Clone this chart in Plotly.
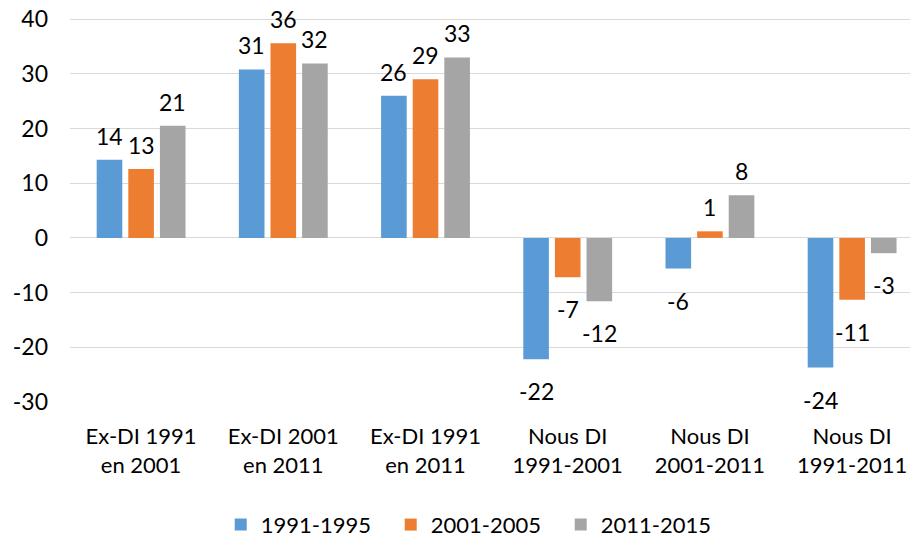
import plotly.graph_objects as go

categories = ["Ex-DI 1991<br>en 2001", "Ex-DI 2001<br>en 2011", "Ex-DI 1991<br>en 2011",
              "Nous DI<br>1991-2001", "Nous DI<br>2001-2011", "Nous DI<br>1991-2011"]
series_names = ["1991-1995", "2001-2005", "2011-2015"]
values_1991 = [14.3, 30.8, 26.0, -22.2, -5.6, -23.7]
values_2001 = [12.6, 35.6, 29.0, -7.2, 1.2, -11.3]
values_2011 = [20.5, 31.9, 33.0, -11.6, 7.8, -2.8]
labels_1991 = ["14", "31", "26", "-22", "-6", "-24"]
labels_2001 = ["13", "36", "29", "-7", "1", "-11"]
labels_2011 = ["21", "32", "33", "-12", "8", "-3"]
colors = ["#5B9BD5", "#ED7D31", "#A5A5A5"]
y_ticks = [-30, -20, -10, 0, 10, 20, 30, 40]
y_ticktext = [str(v) for v in y_ticks]

all_values = [values_1991, values_2001, values_2011]
all_labels = [labels_1991, labels_2001, labels_2011]

FONT = "Lato, 'Noto Sans', sans-serif"
BARGAP = 0.333

fig = go.Figure()
for name, vals, col in zip(series_names, all_values, colors):
    fig.add_trace(go.Bar(name=name, x=list(range(len(categories))), y=vals,
                         marker=dict(color=col, line=dict(width=0))))

slot = (1 - BARGAP) / 3
annotations = []
for s, (vals, labs) in enumerate(zip(all_values, all_labels)):
    for i, (v, t) in enumerate(zip(vals, labs)):
        annotations.append(dict(
            x=i + (s - 1) * slot, y=v, xref="x", yref="y", text=t,
            showarrow=False, xanchor="center", yanchor="middle",
            yshift=24 if v >= 0 else -32,
            font=dict(family=FONT, size=23, color="#000000")))

fig.update_layout(
    width=910, height=541,
    margin=dict(l=70, r=0, t=18, b=139),
    paper_bgcolor="white", plot_bgcolor="white",
    barmode="group", bargap=BARGAP, bargroupgap=0.19,
    font=dict(family=FONT, size=23, color="#000000"),
    showlegend=True,
    legend=dict(orientation="h", x=0.483, xanchor="center", y=0.030, yanchor="middle",
                yref="container", font=dict(size=22, family=FONT, color="#000000"),
                itemwidth=30, tracegroupgap=0, entrywidth=125, entrywidthmode="pixels"),
    annotations=annotations,
)
fig.update_xaxes(tickmode="array", tickvals=list(range(len(categories))), ticktext=categories,
                 range=[-0.5, 5.407], showgrid=False, zeroline=False, showline=False,
                 ticks="", ticklabelstandoff=19, automargin=False, ticklabeloverflow="allow",
                 tickfont=dict(family=FONT, size=22, color="#000000"))
fig.update_yaxes(range=[-30, 40.2], tickmode="array", tickvals=y_ticks, ticktext=y_ticktext,
                 showgrid=True, gridcolor="#D9D9D9",
                 gridwidth=1.3, zeroline=True, zerolinecolor="#D9D9D9", zerolinewidth=1.3,
                 showline=False, ticks="", ticklabelstandoff=21, automargin=False,
                 ticklabeloverflow="allow",
                 tickfont=dict(family=FONT, size=23, color="#000000"))

fig.write_html("out.html", config={"displayModeBar": False},
               post_script="document.body.style.margin='0';document.body.style.overflow='hidden';")
